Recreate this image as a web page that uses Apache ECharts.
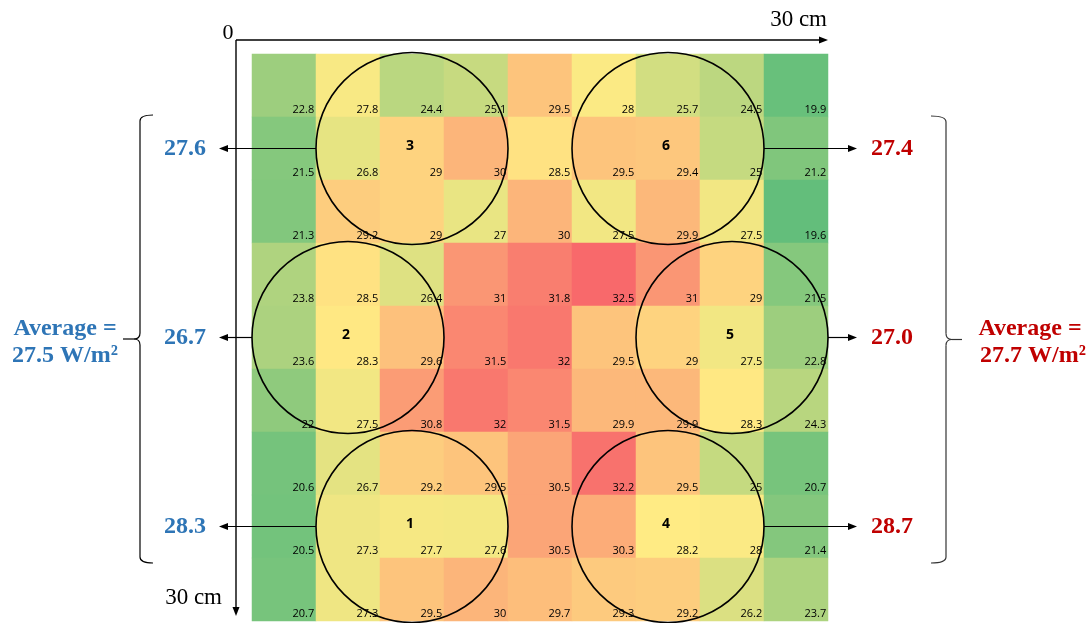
<!DOCTYPE html>
<html><head><meta charset="utf-8">
<script src="https://cdn.jsdelivr.net/npm/echarts@6/dist/echarts.min.js"></script>
<style>html,body{margin:0;padding:0;background:#fff}#c{width:1088px;height:623px}</style>
</head><body><div id="c"></div>
<script>
// ---- data ----
const colLabels = ['c1','c2','c3','c4','c5','c6','c7','c8','c9'];
const rowLabels = ['r1','r2','r3','r4','r5','r6','r7','r8','r9'];
const row1 = [22.8, 27.8, 24.4, 25.1, 29.5, 28, 25.7, 24.5, 19.9];
const row2 = [21.5, 26.8, 29, 30, 28.5, 29.5, 29.4, 25, 21.2];
const row3 = [21.3, 29.2, 29, 27, 30, 27.5, 29.9, 27.5, 19.6];
const row4 = [23.8, 28.5, 26.4, 31, 31.8, 32.5, 31, 29, 21.5];
const row5 = [23.6, 28.3, 29.6, 31.5, 32, 29.5, 29, 27.5, 22.8];
const row6 = [22, 27.5, 30.8, 32, 31.5, 29.9, 29.9, 28.3, 24.3];
const row7 = [20.6, 26.7, 29.2, 29.5, 30.5, 32.2, 29.5, 25, 20.7];
const row8 = [20.5, 27.3, 27.7, 27.6, 30.5, 30.3, 28.2, 28, 21.4];
const row9 = [20.7, 27.3, 29.5, 30, 29.7, 29.3, 29.2, 26.2, 23.7];
const cellRows = [row1, row2, row3, row4, row5, row6, row7, row8, row9];

const circleIds  = ['1', '2', '3', '4', '5', '6'];
const circleCols = [2, 1, 2, 6, 7, 6];
const circleRows = [7, 4, 1, 7, 4, 1];
const circleSide = ['left', 'left', 'left', 'right', 'right', 'right'];
const circleAvg  = [28.3, 26.7, 27.6, 28.7, 27.0, 27.4];
const leftAverage = 27.5;
const rightAverage = 27.7;
const axisStart = '0';
const axisEndX = '30 cm';
const axisEndY = '30 cm';

// ---- build ----
const heatData = [];
cellRows.forEach((row, r) => row.forEach((v, c) => heatData.push([c, r, v])));
const allVals = heatData.map(d => d[2]);
const vMin = Math.min(...allVals), vMax = Math.max(...allVals);

const circleData = circleIds.map((id, i) => [circleCols[i], circleRows[i], circleAvg[i], circleSide[i], id]);

const BLUE = '#2E75B6', RED = '#C00000';
const SERIF = 'Liberation Serif';

function arrowHead(x, y, dir) {
  const L = 9, W = 3.5;
  let pts;
  if (dir === 'left') pts = [[x, y], [x + L, y - W], [x + L, y + W]];
  else if (dir === 'right') pts = [[x, y], [x - L, y - W], [x - L, y + W]];
  else pts = [[x, y], [x - W, y - L], [x + W, y - L]];
  return { type: 'polygon', shape: { points: pts }, style: { fill: '#000' } };
}

function brace(x, yTop, yBot, hx, tx, color) {
  const ym = (yTop + yBot) / 2;
  const s = hx > x ? 1 : -1;
  const t = -s;
  const st = { fill: 'none', stroke: color, lineWidth: 1.2 };
  return [
    { type: 'bezierCurve', shape: { x1: hx, y1: yTop, cpx1: x, cpy1: yTop, x2: x, y2: yTop + 6 }, style: st },
    { type: 'line', shape: { x1: x, y1: yTop + 6, x2: x, y2: ym - 6 }, style: st },
    { type: 'bezierCurve', shape: { x1: x, y1: ym - 6, cpx1: x, cpy1: ym, x2: x + 6 * t, y2: ym }, style: st },
    { type: 'bezierCurve', shape: { x1: x + 6 * t, y1: ym, cpx1: x, cpy1: ym, x2: x, y2: ym + 6 }, style: st },
    { type: 'line', shape: { x1: x, y1: ym + 6, x2: x, y2: yBot - 6 }, style: st },
    { type: 'bezierCurve', shape: { x1: x, y1: yBot - 6, cpx1: x, cpy1: yBot, x2: hx, y2: yBot }, style: st },
    { type: 'line', shape: { x1: x + 6 * t, y1: ym, x2: tx, y2: ym }, style: st }
  ];
}

const chart = echarts.init(document.getElementById('c'), null, { renderer: 'canvas' });
const gridLeft = 252, gridRightPx = 828, gridTop = 54;

const option = {
  animation: false,
  backgroundColor: '#fff',
  grid: { left: gridLeft, right: 1088 - gridRightPx, top: gridTop, bottom: 2 },
  xAxis: { type: 'category', data: colLabels, show: false },
  yAxis: { type: 'category', data: rowLabels, inverse: true, show: false },
  visualMap: {
    show: false, min: vMin, max: vMax, dimension: 2, seriesIndex: 0,
    inRange: { color: ['#63BE7B', '#B1D47F', '#FFEB84', '#F8696B'] }
  },
  series: [
    {
      type: 'heatmap', data: heatData,
      itemStyle: { borderWidth: 0 },
      emphasis: { disabled: true },
      label: {
        show: true, position: 'insideBottomRight', distance: 2,
        formatter: p => String(p.value[2]),
        fontSize: 11, color: '#000', fontFamily: 'Open Sans'
      }
    },
    {
      type: 'custom', data: circleData, z: 5, clip: false,
      encode: { x: 0, y: 1 },
      renderItem: (params, api) => {
        const c = api.coord([api.value(0), api.value(1)]);
        const s = api.size([1, 1]);
        const r = 1.5 * s[0];
        const d = circleData[params.dataIndex];
        const side = d[3];
        const cs = params.coordSys;
        const children = [
          { type: 'circle', shape: { cx: c[0], cy: c[1], r: r }, style: { fill: 'none', stroke: '#000', lineWidth: 1.6 } },
          { type: 'text', style: { text: d[4], x: c[0] - 2, y: c[1] - 2, fontSize: 14, fontWeight: 'bold', fill: '#000', align: 'center', verticalAlign: 'middle', fontFamily: 'Open Sans' } }
        ];
        if (side === 'left') {
          const x1 = c[0] - r, x2 = cs.x - 33;
          children.push({ type: 'line', shape: { x1: x1, y1: c[1], x2: x2 + 6, y2: c[1] }, style: { stroke: '#000', lineWidth: 1.2 } });
          children.push(arrowHead(x2, c[1], 'left'));
          children.push({ type: 'text', style: { text: d[2].toFixed(1), x: x2 - 34, y: c[1], fontSize: 24, fontWeight: 'bold', fill: BLUE, align: 'center', verticalAlign: 'middle', fontFamily: SERIF } });
        } else {
          const x1 = c[0] + r, x2 = cs.x + cs.width + 29;
          children.push({ type: 'line', shape: { x1: x1, y1: c[1], x2: x2 - 6, y2: c[1] }, style: { stroke: '#000', lineWidth: 1.2 } });
          children.push(arrowHead(x2, c[1], 'right'));
          children.push({ type: 'text', style: { text: d[2].toFixed(1), x: x2 + 35, y: c[1], fontSize: 24, fontWeight: 'bold', fill: RED, align: 'center', verticalAlign: 'middle', fontFamily: SERIF } });
        }
        return { type: 'group', children: children };
      }
    }
  ],
  graphic: [
    { type: 'line', shape: { x1: 236, y1: 40, x2: 821, y2: 40 }, style: { stroke: '#000', lineWidth: 1.4 } },
    arrowHead(828, 40, 'right'),
    { type: 'line', shape: { x1: 236, y1: 40, x2: 236, y2: 610 }, style: { stroke: '#000', lineWidth: 1.4 } },
    arrowHead(236, 616, 'down'),
    { type: 'text', style: { text: axisStart, x: 228, y: 33, fontSize: 22, fill: '#000', align: 'center', verticalAlign: 'middle', fontFamily: SERIF } },
    { type: 'text', style: { text: axisEndX, x: 827, y: 20, fontSize: 23, fill: '#000', align: 'right', verticalAlign: 'middle', fontFamily: SERIF } },
    { type: 'text', style: { text: axisEndY, x: 222, y: 598, fontSize: 23, fill: '#000', align: 'right', verticalAlign: 'middle', fontFamily: SERIF } }
  ].concat(brace(140, 115, 563, 153, 123, '#000'))
   .concat(brace(946, 116, 563, 931, 962, '#333'))
   .concat([
    { type: 'text', style: { text: 'Average =', x: 65, y: 329, fontSize: 24, fontWeight: 'bold', fill: BLUE, align: 'center', verticalAlign: 'middle', fontFamily: SERIF } },
    { type: 'text', style: { text: leftAverage.toFixed(1) + ' W/m\u00B2', x: 65, y: 356, fontSize: 24, fontWeight: 'bold', fill: BLUE, align: 'center', verticalAlign: 'middle', fontFamily: SERIF } },
    { type: 'text', style: { text: 'Average =', x: 1030, y: 329, fontSize: 24, fontWeight: 'bold', fill: RED, align: 'center', verticalAlign: 'middle', fontFamily: SERIF } },
    { type: 'text', style: { text: rightAverage.toFixed(1) + ' W/m\u00B2', x: 1033, y: 356, fontSize: 24, fontWeight: 'bold', fill: RED, align: 'center', verticalAlign: 'middle', fontFamily: SERIF } }
  ])
};
chart.setOption(option);
</script>
</body></html>
